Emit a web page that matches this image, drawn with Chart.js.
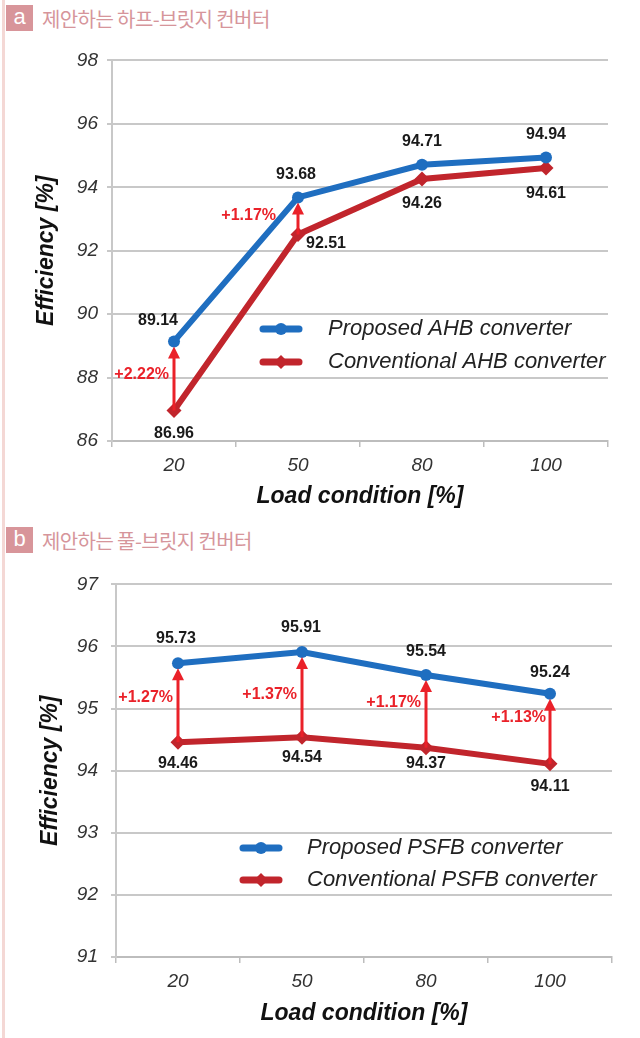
<!DOCTYPE html>
<html>
<head>
<meta charset="utf-8">
<script src="https://cdn.jsdelivr.net/npm/chart.js@4.4.1/dist/chart.umd.min.js"></script>
<style>
  html, body { margin: 0; padding: 0; background: #fff; }
  body { width: 640px; height: 1038px; position: relative; overflow: hidden; font-family: "Liberation Sans", Arial, sans-serif; }
  .edge { position: absolute; left: 2px; top: 0; width: 3px; height: 1038px; background: #f4d8d5; }
  .head { position: absolute; left: 6px; height: 26px; display: flex; align-items: center; }
  .tag { width: 27px; height: 26px; background: #d8959a; color: #fff; font: 22px "Liberation Sans", Arial, sans-serif; text-align: center; line-height: 24px; }
  .head span { margin-left: 9px; color: #d6959b; font: 20px "Noto Sans CJK KR", sans-serif; letter-spacing: -0.6px; }
  .box { position: absolute; left: 0; width: 640px; }
</style>
</head>
<body>
<div class="edge"></div>
<div class="head" style="top:5px"><div class="tag">a</div><span>제안하는 하프-브릿지 컨버터</span></div>
<div class="box" style="top:40px;height:480px"><canvas id="chartA"></canvas></div>
<div class="head" style="top:527px"><div class="tag">b</div><span>제안하는 풀-브릿지 컨버터</span></div>
<div class="box" style="top:560px;height:478px"><canvas id="chartB"></canvas></div>
<script>
// data
const loads = ['20', '50', '80', '100'];
const ahbProposed = [89.14, 93.68, 94.71, 94.94];
const ahbConventional = [86.96, 92.51, 94.26, 94.61];
const ahbGains = ['+2.22%', '+1.17%', null, null];
const psfbProposed = [95.73, 95.91, 95.54, 95.24];
const psfbConventional = [94.46, 94.54, 94.37, 94.11];
const psfbGains = ['+1.27%', '+1.37%', '+1.17%', '+1.13%'];
const ahbRange = [86, 98, 2];
const psfbRange = [91, 97, 1];

const BLUE = '#1f6ec0';
const RED = '#c1252c';
const ARROW = '#ea2129';
const FAMILY = '"Liberation Sans", Arial, sans-serif';

// arrows, value labels and legend drawn on top of the chart
const notes = {
  id: 'notes',
  afterDatasetsDraw(chart, args, o) {
    const ctx = chart.ctx, xs = chart.scales.x, ys = chart.scales.y;
    const [prop, conv] = chart.data.datasets;
    ctx.save();
    o.gains.forEach((g, i) => {
      if (!g) return;
      const x = xs.getPixelForValue(i);
      const y0 = ys.getPixelForValue(conv.data[i]);
      const y1 = ys.getPixelForValue(prop.data[i]) + 5;
      ctx.strokeStyle = ARROW; ctx.fillStyle = ARROW; ctx.lineWidth = 3;
      ctx.beginPath(); ctx.moveTo(x, y0); ctx.lineTo(x, y1 + 8); ctx.stroke();
      ctx.beginPath(); ctx.moveTo(x, y1); ctx.lineTo(x - 6, y1 + 12); ctx.lineTo(x + 6, y1 + 12); ctx.closePath(); ctx.fill();
      ctx.font = 'bold 16px ' + FAMILY;
      ctx.textAlign = 'right'; ctx.textBaseline = 'middle';
      ctx.fillText(g, x - o.gainGap[i], (y0 + y1) / 2 + o.gainDy[i]);
    });
    ctx.fillStyle = '#1a1a1a';
    ctx.font = 'bold 16px ' + FAMILY;
    ctx.textAlign = 'center'; ctx.textBaseline = 'middle';
    [prop, conv].forEach((ds, d) => {
      ds.data.forEach((v, i) => {
        const off = o.offsets[d][i];
        ctx.fillText(v.toFixed(2), xs.getPixelForValue(i) + off[0], ys.getPixelForValue(v) + off[1]);
      });
    });
    // legend
    const L = o.legend;
    [prop, conv].forEach((ds, d) => {
      const y = L.y + d * L.gap;
      ctx.strokeStyle = ds.borderColor; ctx.lineWidth = 7; ctx.lineCap = 'round';
      ctx.beginPath(); ctx.moveTo(L.x, y); ctx.lineTo(L.x + 36, y); ctx.stroke();
      ctx.fillStyle = ds.borderColor;
      ctx.beginPath();
      if (d === 0) ctx.arc(L.x + 18, y, 6, 0, Math.PI * 2);
      else { ctx.moveTo(L.x + 18, y - 7); ctx.lineTo(L.x + 25, y); ctx.lineTo(L.x + 18, y + 7); ctx.lineTo(L.x + 11, y); ctx.closePath(); }
      ctx.fill();
      ctx.fillStyle = '#222';
      ctx.font = 'italic 22px ' + FAMILY;
      ctx.textAlign = 'left';
      ctx.fillText(ds.label, L.textX, y);
    });
    ctx.restore();
  }
};

function makeChart(id, cfg) {
  const axisFont = { family: FAMILY, size: 19, style: 'italic' };
  const titleFont = { family: FAMILY, size: 23, style: 'italic', weight: 'bold' };
  return new Chart(document.getElementById(id), {
    type: 'line',
    data: {
      labels: loads,
      datasets: [
        { label: cfg.names[0], data: cfg.prop, borderColor: BLUE, backgroundColor: BLUE, borderWidth: 6,
          pointStyle: 'circle', pointRadius: 6, pointBorderWidth: 0 },
        { label: cfg.names[1], data: cfg.conv, borderColor: RED, backgroundColor: RED, borderWidth: 6,
          pointStyle: 'rectRot', pointRadius: 7.5, pointBorderWidth: 0 }
      ]
    },
    options: {
      responsive: true,
      maintainAspectRatio: false,
      animation: false,
      layout: { padding: { top: cfg.top, right: cfg.right, left: 0, bottom: 0 } },
      plugins: {
        legend: { display: false },
        tooltip: { enabled: false },
        notes: cfg.notes
      },
      scales: {
        x: {
          offset: true,
          grid: { offset: true, drawOnChartArea: false, drawTicks: true, tickLength: 6, color: '#bdbdbd', lineWidth: 1.5 },
          border: { color: '#bdbdbd', width: 2 },
          ticks: { color: '#333', font: axisFont, padding: 7 },
          title: { display: true, text: 'Load condition [%]', color: '#111', font: titleFont, padding: { bottom: cfg.xTitlePad } },
          afterFit: s => { s.height = cfg.xHeight; }
        },
        y: {
          min: cfg.range[0], max: cfg.range[1],
          ticks: { stepSize: cfg.range[2], color: '#333', font: axisFont, padding: cfg.yPad },
          grid: { color: '#c8c8c8', lineWidth: 2, tickLength: 5 },
          border: { color: '#c8c8c8', width: 2 },
          title: { display: true, text: 'Efficiency [%]', color: '#111', font: titleFont, padding: { top: cfg.yTitlePad } },
          afterFit: s => { s.width = cfg.left; }
        }
      }
    },
    plugins: [notes]
  });
}

makeChart('chartA', {
  names: ['Proposed AHB converter', 'Conventional AHB converter'],
  prop: ahbProposed, conv: ahbConventional, range: ahbRange,
  top: 18, right: 32, left: 112, xHeight: 79, xTitlePad: 10, yPad: 9, yTitlePad: 33,
  notes: {
    gains: ahbGains,
    gainGap: [5, 22, 6, 6],
    gainDy: [-4, -3, 0, 0],
    offsets: [
      [[-16, -21], [-2, -23], [0, -23], [0, -23]],
      [[0, 23], [28, 9], [0, 25], [0, 26]]
    ],
    legend: { x: 263, y: 289, gap: 33, textX: 328 }
  }
});

makeChart('chartB', {
  names: ['Proposed PSFB converter', 'Conventional PSFB converter'],
  prop: psfbProposed, conv: psfbConventional, range: psfbRange,
  top: 21, right: 28, left: 116, xHeight: 81, xTitlePad: 11, yPad: 13, yTitlePad: 37,
  notes: {
    gains: psfbGains,
    gainGap: [5, 5, 5, 4],
    gainDy: [-8, -3, -11, -14],
    offsets: [
      [[-2, -25], [-1, -24], [0, -23], [0, -21]],
      [[0, 21], [0, 20], [0, 16], [0, 23]]
    ],
    legend: { x: 243, y: 288, gap: 32, textX: 307 }
  }
});
</script>
</body>
</html>
